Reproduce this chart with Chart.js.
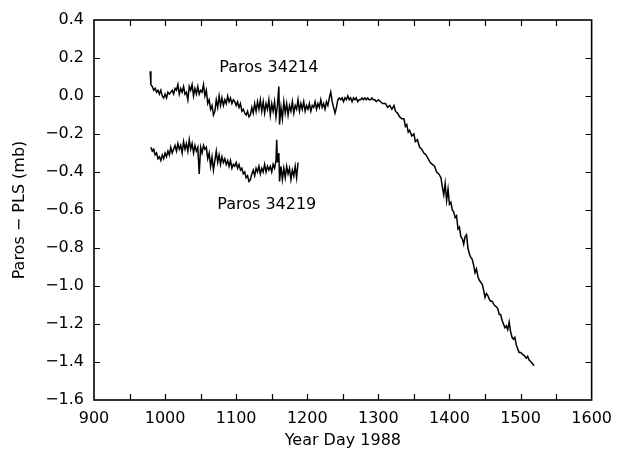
<!DOCTYPE html>
<html>
<head>
<meta charset="utf-8">
<script src="https://cdn.jsdelivr.net/npm/chart.js@4/dist/chart.umd.min.js"></script>
<style>
    html, body { margin: 0; padding: 0; background: #fff; }
    #wrap { width: 621px; height: 455px; }
</style>
</head>
<body>
<div id="wrap"><canvas id="parosChart"></canvas></div>
<script>
// Paros 34214 (day, mb)
const days34214 = [
    979, 980, 982, 984, 986, 988, 990, 992, 994, 996, 998, 1000, 1002, 1004, 1006, 1008,
    1010, 1012, 1014, 1016, 1018, 1020, 1022, 1024, 1026, 1028, 1030, 1032, 1034, 1036, 1038,
    1040, 1042, 1044, 1046, 1048, 1050, 1052, 1054, 1056, 1058, 1060, 1062, 1064, 1066, 1068,
    1070, 1072, 1074, 1076, 1078, 1080, 1082, 1084, 1086, 1088, 1090, 1092, 1094, 1096, 1098,
    1100, 1102, 1104, 1106, 1108, 1110, 1112, 1114, 1116, 1118, 1120, 1122, 1124, 1126, 1128,
    1130, 1132, 1134, 1136, 1138, 1140, 1142, 1144, 1146, 1148, 1150, 1152, 1154, 1156, 1158,
    1160, 1161, 1163, 1165, 1167, 1169, 1171, 1173, 1175, 1177, 1179, 1181, 1183, 1185, 1187,
    1189, 1191, 1193, 1195, 1197, 1199, 1201, 1203, 1205, 1207, 1209, 1211, 1213, 1215, 1217,
    1219, 1221, 1223, 1225, 1227, 1229, 1231, 1233, 1235, 1237, 1239, 1241, 1243, 1245, 1247,
    1249, 1251, 1253, 1255, 1257, 1259, 1261, 1263, 1265, 1267, 1269, 1271, 1273, 1275, 1277,
    1279, 1281, 1283, 1285, 1287, 1289, 1291, 1293, 1295, 1297, 1300, 1303, 1306, 1310, 1313,
    1316, 1319, 1322, 1324, 1327, 1330, 1333, 1336, 1338, 1340, 1342, 1344, 1347, 1350, 1352,
    1355, 1358, 1361, 1364, 1367, 1370, 1373, 1376, 1379, 1382, 1385, 1388, 1390, 1392, 1394,
    1396, 1398, 1400, 1402, 1404, 1406, 1408, 1410, 1412, 1414, 1416, 1418, 1420, 1422, 1424,
    1426, 1428, 1430, 1432, 1434, 1436, 1438, 1440, 1442, 1444, 1446, 1448, 1450, 1452, 1454,
    1456, 1458, 1460, 1463, 1466, 1468, 1470, 1472, 1474, 1476, 1478, 1480, 1482, 1484, 1486,
    1488, 1490, 1492, 1494, 1496, 1498, 1500, 1503, 1506, 1508, 1510, 1512, 1515, 1519
];
const values34214 = [
    0.13, 0.06, 0.05, 0.03, 0.04, 0.02, 0.03, 0.01, 0.03, 0.00, -0.01, 0.01, -0.01, 0.02, 0.01, 0.02,
    0.03, 0.01, 0.04, 0.03, 0.06, 0.01, 0.04, 0.02, 0.05, 0.01, 0.02, -0.02, 0.05, 0.03, 0.06,
    0.00, 0.04, 0.01, 0.05, 0.01, 0.03, 0.02, 0.06, 0.00, 0.03, -0.04, -0.02, -0.07, -0.05, -0.10,
    -0.08, -0.02, -0.06, 0.00, -0.05, -0.01, -0.05, -0.02, -0.04, 0.00, -0.03, -0.01, -0.04, -0.02, -0.03,
    -0.05, -0.03, -0.06, -0.04, -0.08, -0.07, -0.09, -0.10, -0.08, -0.11, -0.10, -0.06, -0.09, -0.04, -0.08,
    -0.03, -0.07, -0.02, -0.08, -0.03, -0.09, -0.04, -0.07, -0.02, -0.10, -0.04, -0.08, -0.03, -0.11, -0.05,
    0.05, -0.15, -0.06, -0.12, -0.03, -0.09, -0.04, -0.10, -0.05, -0.08, -0.03, -0.09, -0.05, -0.07, -0.02,
    -0.08, -0.04, -0.07, -0.03, -0.08, -0.05, -0.07, -0.04, -0.08, -0.05, -0.06, -0.03, -0.07, -0.04, -0.06,
    -0.02, -0.06, -0.04, -0.07, -0.03, -0.05, -0.01, 0.02, -0.03, -0.06, -0.09, -0.06, -0.02, -0.01, -0.02,
    -0.01, -0.03, -0.01, -0.02, 0.00, -0.02, -0.01, -0.03, -0.01, -0.02, -0.01, -0.03, -0.02, -0.02, -0.01,
    -0.02, -0.01, -0.02, -0.01, -0.02, -0.02, -0.01, -0.02, -0.02, -0.03, -0.02, -0.03, -0.04, -0.04, -0.06,
    -0.05, -0.07, -0.05, -0.08, -0.09, -0.11, -0.12, -0.12, -0.16, -0.15, -0.19, -0.18, -0.21, -0.20, -0.24,
    -0.23, -0.27, -0.28, -0.30, -0.31, -0.33, -0.35, -0.36, -0.37, -0.40, -0.41, -0.43, -0.48, -0.52, -0.46,
    -0.55, -0.49, -0.57, -0.56, -0.60, -0.61, -0.64, -0.63, -0.70, -0.69, -0.74, -0.75, -0.78, -0.74, -0.73,
    -0.80, -0.83, -0.85, -0.86, -0.89, -0.93, -0.91, -0.95, -0.97, -0.98, -0.99, -1.02, -1.06, -1.04, -1.05,
    -1.07, -1.08, -1.08, -1.10, -1.11, -1.12, -1.15, -1.15, -1.18, -1.20, -1.22, -1.21, -1.23, -1.19, -1.24,
    -1.27, -1.28, -1.27, -1.31, -1.33, -1.35, -1.35, -1.36, -1.37, -1.38, -1.37, -1.39, -1.40, -1.42
];

// Paros 34219 (day, mb)
const days34219 = [
    980, 982, 984, 986, 988, 990, 992, 994, 996, 998, 1000, 1002, 1004, 1006, 1008, 1010,
    1012, 1014, 1016, 1018, 1020, 1022, 1024, 1026, 1028, 1030, 1032, 1034, 1036, 1038, 1040,
    1042, 1044, 1046, 1048, 1050, 1052, 1054, 1056, 1058, 1060, 1062, 1064, 1066, 1068, 1070,
    1072, 1074, 1076, 1078, 1080, 1082, 1084, 1086, 1088, 1090, 1092, 1094, 1096, 1098, 1100,
    1102, 1104, 1106, 1108, 1110, 1112, 1114, 1116, 1118, 1120, 1122, 1124, 1126, 1128, 1130,
    1132, 1134, 1136, 1138, 1140, 1142, 1144, 1146, 1148, 1150, 1152, 1154, 1156, 1157, 1158,
    1160, 1161, 1163, 1165, 1167, 1169, 1171, 1173, 1175, 1177, 1179, 1181, 1183, 1185, 1187
];
const values34219 = [
    -0.27, -0.29, -0.28, -0.31, -0.30, -0.33, -0.32, -0.34, -0.31, -0.33, -0.30, -0.32, -0.29, -0.31, -0.27, -0.30,
    -0.28, -0.26, -0.29, -0.25, -0.28, -0.26, -0.30, -0.24, -0.28, -0.25, -0.29, -0.23, -0.28, -0.25, -0.30,
    -0.26, -0.29, -0.27, -0.41, -0.27, -0.30, -0.26, -0.28, -0.27, -0.33, -0.30, -0.37, -0.32, -0.39, -0.34,
    -0.29, -0.35, -0.31, -0.36, -0.32, -0.35, -0.33, -0.36, -0.34, -0.37, -0.34, -0.38, -0.36, -0.37, -0.35,
    -0.38, -0.36, -0.39, -0.38, -0.41, -0.40, -0.43, -0.42, -0.45, -0.44, -0.41, -0.39, -0.42, -0.38, -0.40,
    -0.37, -0.41, -0.38, -0.40, -0.36, -0.40, -0.37, -0.39, -0.37, -0.40, -0.36, -0.38, -0.34, -0.23, -0.35,
    -0.30, -0.45, -0.37, -0.44, -0.38, -0.43, -0.37, -0.41, -0.38, -0.44, -0.39, -0.42, -0.37, -0.43, -0.35
];

// axis ranges and labels
const xMin = 900, xMax = 1600, xStep = 50;
const yMin = -1.6, yMax = 0.4, yStep = 0.2;

const seriesLabels = [
    { text: "Paros 34214", day: 1146, value: 0.147 },
    { text: "Paros 34219", day: 1143, value: -0.574 }
];

const FONT = "'DejaVu Sans', sans-serif";

function toPoints(xs, ys) {
    return xs.map((x, i) => ({ x: x, y: ys[i] }));
}

function fmtY(v) {
    if (Math.abs(v) < 1e-9) {
        return "0.0";
    }
    const s = Math.abs(v).toFixed(1);
    return v < 0 ? "\u2212" + s : s;
}

/*
  frame, inward ticks, text labels
*/
const framePlugin = {
    id: "frame",
    afterDatasetsDraw(chart) {
        const { ctx, chartArea: a, scales } = chart;
        const xs = scales.x, ys = scales.y;
        const len = 6;

        ctx.save();
        ctx.strokeStyle = "#000";
        ctx.lineWidth = 1.6;
        ctx.strokeRect(a.left, a.top, a.right - a.left, a.bottom - a.top);

        ctx.lineWidth = 1.2;
        ctx.beginPath();
        xs.ticks.forEach(t => {
            if (t.value <= xMin || t.value >= xMax) return;
            const px = Math.round(xs.getPixelForValue(t.value)) + 0.5;
            ctx.moveTo(px, a.bottom);
            ctx.lineTo(px, a.bottom - len);
            ctx.moveTo(px, a.top);
            ctx.lineTo(px, a.top + len);
        });
        ys.ticks.forEach(t => {
            if (t.value <= yMin + 1e-6 || t.value >= yMax - 1e-6) return;
            const py = Math.round(ys.getPixelForValue(t.value)) + 0.5;
            ctx.moveTo(a.left, py);
            ctx.lineTo(a.left + len, py);
            ctx.moveTo(a.right, py);
            ctx.lineTo(a.right - len, py);
        });
        ctx.stroke();

        ctx.fillStyle = "#000";
        ctx.font = "16px " + FONT;
        ctx.textAlign = "center";
        ctx.textBaseline = "middle";
        seriesLabels.forEach(l => {
            ctx.fillText(l.text, xs.getPixelForValue(l.day), ys.getPixelForValue(l.value));
        });
        ctx.restore();
    }
};

new Chart(document.getElementById("parosChart"), {
    type: "scatter",
    data: {
        datasets: [
            {
                label: "Paros 34214",
                data: toPoints(days34214, values34214),
                showLine: true,
                borderColor: "#000",
                borderWidth: 1.5,
                pointRadius: 0,
                tension: 0
            },
            {
                label: "Paros 34219",
                data: toPoints(days34219, values34219),
                showLine: true,
                borderColor: "#000",
                borderWidth: 1.5,
                pointRadius: 0,
                tension: 0
            }
        ]
    },
    options: {
        responsive: true,
        maintainAspectRatio: false,
        animation: false,
        events: [],
        layout: {
            padding: { left: 0, top: 20, right: 26, bottom: 0 }
        },
        plugins: {
            legend: { display: false },
            tooltip: { enabled: false }
        },
        scales: {
            x: {
                type: "linear",
                min: xMin,
                max: xMax,
                grid: { display: false, drawTicks: false },
                border: { display: false },
                ticks: {
                    stepSize: xStep,
                    autoSkip: false,
                    maxRotation: 0,
                    padding: 9,
                    color: "#000",
                    font: { family: FONT, size: 16 },
                    callback: v => (v % 100 === 0 ? String(v) : "")
                },
                title: {
                    display: true,
                    text: "Year Day 1988",
                    color: "#000",
                    font: { family: FONT, size: 16 },
                    padding: { top: 0, bottom: 5 }
                },
                afterFit: s => { s.height = 55; }
            },
            y: {
                type: "linear",
                min: yMin,
                max: yMax,
                grid: { display: false, drawTicks: false },
                border: { display: false },
                ticks: {
                    stepSize: yStep,
                    autoSkip: false,
                    padding: 10,
                    color: "#000",
                    font: { family: FONT, size: 16 },
                    callback: v => fmtY(v)
                },
                title: {
                    display: true,
                    text: "Paros \u2212 PLS (mb)",
                    color: "#000",
                    font: { family: FONT, size: 16 },
                    padding: { top: 10, bottom: 0 }
                },
                afterFit: s => { s.width = 94; }
            }
        }
    },
    plugins: [framePlugin]
});
</script>
</body>
</html>
